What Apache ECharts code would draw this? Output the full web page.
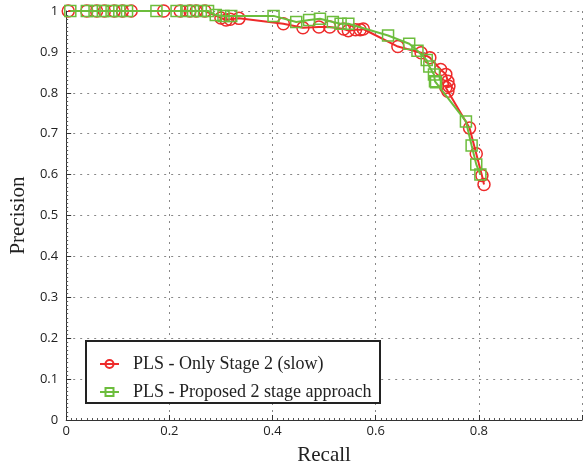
<!DOCTYPE html>
<html>
<head>
<meta charset="utf-8">
<script src="https://cdn.jsdelivr.net/npm/echarts@6/dist/echarts.min.js"></script>
<style>html,body{margin:0;padding:0;background:#fff}#c{width:585px;height:471px}</style>
</head>
<body>
<div id="c"></div>
<script>
const seriesNames = ['PLS - Only Stage 2 (slow)', 'PLS - Proposed 2 stage approach'];
const xTicks = [0, 0.2, 0.4, 0.6, 0.8];
const yTicks = [0, 0.1, 0.2, 0.3, 0.4, 0.5, 0.6, 0.7, 0.8, 0.9, 1];

const stage2Recall = [0.004,0.040,0.059,0.074,0.093,0.109,0.126,0.189,0.221,0.240,0.252,0.269,0.300,0.310,0.318,0.335,0.421,0.459,0.490,0.511,0.538,0.547,0.561,0.570,0.576,0.643,0.688,0.705,0.726,0.736,0.740,0.742,0.736,0.740,0.782,0.795,0.806,0.810];
const stage2Precision = [1,1,1,1,1,1,1,1,1,1,1,1,0.983,0.978,0.980,0.982,0.969,0.959,0.961,0.961,0.956,0.952,0.954,0.954,0.956,0.913,0.898,0.886,0.857,0.845,0.828,0.816,0.813,0.804,0.714,0.651,0.598,0.576];

const proposedRecall = [0.008,0.040,0.055,0.071,0.088,0.103,0.118,0.175,0.214,0.233,0.246,0.261,0.275,0.290,0.305,0.320,0.402,0.446,0.471,0.492,0.517,0.532,0.547,0.624,0.665,0.681,0.699,0.704,0.713,0.715,0.717,0.775,0.786,0.795,0.803];
const proposedPrecision = [1,1,1,1,1,1,1,1,1,1,1,1,1,0.990,0.988,0.988,0.988,0.973,0.978,0.981,0.973,0.969,0.969,0.940,0.920,0.903,0.880,0.864,0.845,0.828,0.826,0.730,0.671,0.625,0.600];

const RED = '#ee2a2a', GREEN = '#6cbd3c';
const zip = (a, b) => a.map((v, i) => [v, b[i]]);

const chart = echarts.init(document.getElementById('c'), null, {renderer: 'canvas'});
const tickFont = 'Open Sans';
chart.setOption({
  animation: false,
  backgroundColor: '#fff',
  grid: {left: 66, top: 11, width: 524, height: 413},
  xAxis: {
    type: 'value', min: 0, max: 1, interval: 0.2,
    name: 'Recall', nameLocation: 'middle', nameGap: 25,
    nameTextStyle: {fontFamily: 'Liberation Serif', fontSize: 21, color: '#222'},
    axisLine: {show: true, onZero: false, lineStyle: {color: '#333', width: 1}},
    axisTick: {show: true, inside: true, length: 5, lineStyle: {color: '#333'}},
    minorTick: {show: true, splitNumber: 20, length: 2, lineStyle: {color: '#555'}},
    axisLabel: {fontFamily: tickFont, fontSize: 13, color: '#222', margin: 5,
      formatter: v => xTicks.includes(Math.round(v*10)/10) ? String(Math.round(v*10)/10) : ''},
    splitLine: {show: true, lineStyle: {color: '#888', type: [2, 5], width: 1}}
  },
  yAxis: {
    type: 'value', min: 0, max: 1, interval: 0.1,
    name: 'Precision', nameLocation: 'middle', nameGap: 37,
    nameTextStyle: {fontFamily: 'Liberation Serif', fontSize: 21, color: '#222'},
    axisLine: {show: true, lineStyle: {color: '#333', width: 1}},
    axisTick: {show: true, inside: true, length: 5, lineStyle: {color: '#333'}},
    minorTick: {show: true, splitNumber: 10, length: 2, lineStyle: {color: '#555'}},
    axisLabel: {fontFamily: tickFont, fontSize: 13, color: '#222', margin: 8,
      formatter: v => { const r = Math.round(v*10)/10; return yTicks.includes(r) ? String(r) : ''; }},
    splitLine: {show: true, lineStyle: {color: '#888', type: [2, 5], width: 1}}
  },
  graphic: [{
    type: 'rect', z: 50, shape: {x: 86, y: 341, width: 294, height: 62},
    style: {fill: '#fff', stroke: '#222', lineWidth: 2}
  }],
  legend: {
    z: 60, orient: 'vertical', left: 94, top: 349, itemGap: 8,
    itemWidth: 19, itemHeight: 10,
    textStyle: {fontFamily: 'Liberation Serif', fontSize: 18, color: '#222', lineHeight: 20, padding: [0, 0, 0, 9]},
    data: seriesNames
  },
  series: [{
    name: seriesNames[0], type: 'line', data: zip(stage2Recall, stage2Precision),
    symbol: 'circle', symbolSize: 12, showAllSymbol: true,
    lineStyle: {color: RED, width: 2},
    itemStyle: {color: 'rgba(255,255,255,0)', borderColor: RED, borderWidth: 1.5},
    z: 2
  }, {
    name: seriesNames[1], type: 'line', data: zip(proposedRecall, proposedPrecision),
    symbol: 'rect', symbolSize: 11, showAllSymbol: true,
    lineStyle: {color: GREEN, width: 2},
    itemStyle: {color: 'rgba(255,255,255,0)', borderColor: GREEN, borderWidth: 1.5},
    z: 3
  }]
});
</script>
</body>
</html>
